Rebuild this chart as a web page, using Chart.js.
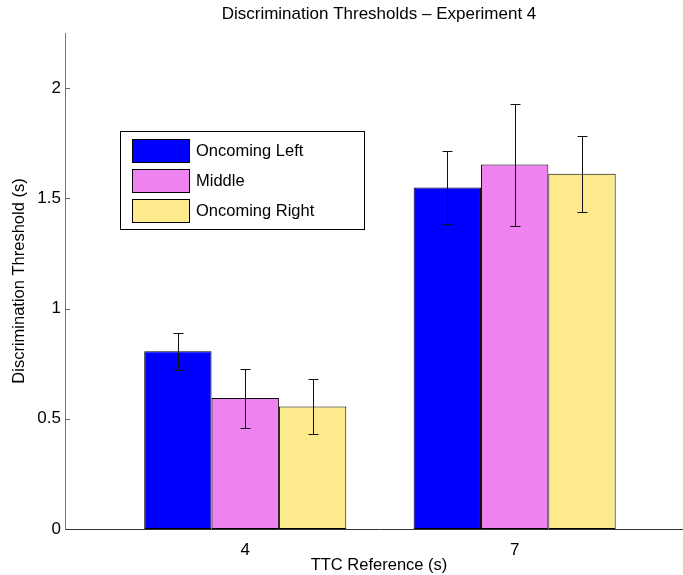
<!DOCTYPE html>
<html>
<head>
<meta charset="utf-8">
<script src="https://cdn.jsdelivr.net/npm/chart.js@4.4.0/dist/chart.umd.min.js"></script>
<style>
  html, body { margin: 0; padding: 0; background: #fff; overflow: hidden; }
  /* figure is cropped on the right, axes run a little past the window */
  #wrap { width: 693px; height: 575px; }
</style>
</head>
<body>
<div id="wrap"><canvas id="thresholdChart"></canvas></div>
<script>
// TTC reference values (category labels)
const ttcLabels = ['4', '7'];
const seriesNames = ['Oncoming Left', 'Middle', 'Oncoming Right'];
const seriesColors = ['#0000ff', '#ee82ee', '#fdea8c'];

// thresholds per series, one per TTC reference
const leftVals = [0.806, 1.549];
const middleVals = [0.594, 1.653];
const rightVals = [0.556, 1.612];

// half-width of error bars
const leftErr = [0.085, 0.165];
const middleErr = [0.134, 0.277];
const rightErr = [0.126, 0.172];

const yTicks = [0, 0.5, 1, 1.5, 2];

const allVals = [leftVals, middleVals, rightVals];
const allErr = [leftErr, middleErr, rightErr];

const FONT = "'Liberation Sans', Arial, Helvetica, sans-serif";

const datasets = seriesNames.map((name, s) => ({
	label: name,
	data: allVals[s].map((v, i) => ({ x: i + 1, y: v })),
	errs: allErr[s],
	backgroundColor: seriesColors[s],
	borderColor: '#000',
	borderWidth: 1,
	borderSkipped: false,
	categoryPercentage: 0.75,
	barPercentage: 1.0
}));

// error bars drawn from the scales
const errorBarPlugin = {
	id: 'errorBars',
	afterDatasetsDraw(chart) {
		const ctx = chart.ctx;
		const yScale = chart.scales.y;
		ctx.save();
		ctx.strokeStyle = '#111';
		ctx.lineWidth = 1;
		chart.data.datasets.forEach((ds, di) => {
			const meta = chart.getDatasetMeta(di);
			meta.data.forEach((bar, i) => {
				const v = ds.data[i].y, e = ds.errs[i];
				const x = Math.round(bar.x) + 0.5;
				const yTop = Math.round(yScale.getPixelForValue(v + e)) + 0.5;
				const yBot = Math.round(yScale.getPixelForValue(v - e)) + 0.5;
				ctx.beginPath();
				ctx.moveTo(x, yTop); ctx.lineTo(x, yBot);
				ctx.moveTo(x - 5, yTop); ctx.lineTo(x + 5, yTop);
				ctx.moveTo(x - 5, yBot); ctx.lineTo(x + 5, yBot);
				ctx.stroke();
			});
		});
		ctx.restore();
	}
};

// inward tick marks on the y axis, boxed legend
const decorPlugin = {
	id: 'decor',
	afterDraw(chart) {
		const ctx = chart.ctx;
		const area = chart.chartArea;
		const yScale = chart.scales.y;
		ctx.save();
		ctx.strokeStyle = '#666';
		ctx.lineWidth = 1;
		yScale.ticks.forEach(t => {
			if (t.value === 0) return;
			const y = Math.round(yScale.getPixelForValue(t.value)) + 0.5;
			ctx.beginPath();
			ctx.moveTo(area.left, y);
			ctx.lineTo(area.left + 5, y);
			ctx.stroke();
		});

		// legend
		const lx = 120, ly = 131, lw = 244, lh = 98;
		ctx.fillStyle = '#fff';
		ctx.fillRect(lx, ly, lw, lh);
		ctx.strokeStyle = '#000';
		ctx.strokeRect(lx + 0.5, ly + 0.5, lw, lh);
		ctx.font = '16.5px ' + FONT;
		ctx.textBaseline = 'middle';
		chart.data.datasets.forEach((ds, i) => {
			const cy = ly + 19 + i * 30;
			ctx.fillStyle = ds.backgroundColor;
			ctx.fillRect(132, cy - 11, 57, 23);
			ctx.strokeStyle = '#000';
			ctx.strokeRect(132.5, cy - 10.5, 57, 23);
			ctx.fillStyle = '#000';
			ctx.fillText(ds.label, 196, cy + 1);
		});
		ctx.restore();
	}
};

new Chart(document.getElementById('thresholdChart'), {
	type: 'bar',
	data: { datasets },
	options: {
		responsive: true,
		maintainAspectRatio: false,
		animation: false,
		layout: { padding: 0 },
		plugins: {
			legend: { display: false },
			tooltip: { enabled: false },
			title: {
				display: true,
				text: 'Discrimination Thresholds \u2013 Experiment 4',
				fullSize: false,
				color: '#000',
				font: { family: FONT, size: 17, weight: 'normal' },
				padding: { top: 4, bottom: 8.6 }
			}
		},
		scales: {
			x: {
				type: 'linear',
				min: 0.331,
				max: 2.662,
				offset: false,
				grid: { display: false, drawTicks: false, offset: false },
				border: { display: true, color: '#333', width: 1 },
				afterBuildTicks(scale) {
					scale.ticks = ttcLabels.map((l, i) => ({ value: i + 1 }));
				},
				afterFit(scale) { scale.height = 46; },
				ticks: {
					color: '#000',
					padding: 11,
					font: { family: FONT, size: 17 },
					callback: (v) => ttcLabels[v - 1]
				},
				title: {
					display: true,
					text: 'TTC Reference (s)',
					color: '#000',
					font: { family: FONT, size: 16.5 },
					padding: { top: 0, bottom: 0 }
				}
			},
			y: {
				min: 0,
				max: 2.25,
				grid: { display: false, drawTicks: false },
				border: { display: true, color: '#777', width: 1 },
				afterBuildTicks(scale) {
					scale.ticks = yTicks.map(v => ({ value: v }));
				},
				afterFit(scale) { scale.width = 65; },
				ticks: {
					color: '#000',
					padding: 4,
					font: { family: FONT, size: 17 },
					callback: (v) => String(v)
				},
				title: {
					display: true,
					text: 'Discrimination Threshold (s)',
					color: '#000',
					font: { family: FONT, size: 16.5 },
					padding: { top: 10, bottom: 0 }
				}
			}
		}
	},
	plugins: [errorBarPlugin, decorPlugin]
});
</script>
</body>
</html>
